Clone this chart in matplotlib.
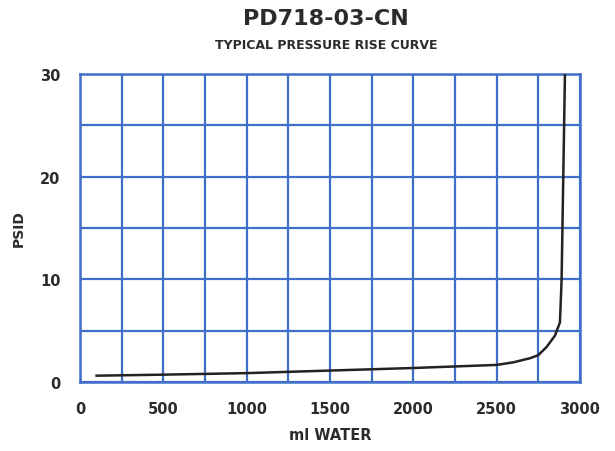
import matplotlib.pyplot as plt
import numpy as np

# curve
ml_water = [100, 500, 1000, 1500, 2000, 2500, 2600, 2700, 2750, 2800, 2850, 2880, 2890, 2900, 2910]
psid = [0.6, 0.7, 0.85, 1.1, 1.35, 1.65, 1.9, 2.3, 2.6, 3.4, 4.5, 5.8, 10.0, 20.0, 30.0]

x_ticks = [0, 500, 1000, 1500, 2000, 2500, 3000]
y_ticks = [0, 10, 20, 30]

GRID_BLUE = "#3f6fc8"
TEXT = "#2b2b2b"

fig = plt.figure(figsize=(6.15, 4.52), dpi=100)
ax = fig.add_axes([0.130, 0.153, 0.813, 0.681])

ax.set_xlim(0, 3000)
ax.set_ylim(0, 30)
ax.set_xticks(x_ticks)
ax.set_yticks(y_ticks)
ax.set_xticks(np.arange(0, 3001, 250), minor=True)
ax.set_yticks(np.arange(0, 31, 5), minor=True)
ax.grid(which="both", color=GRID_BLUE, linewidth=1.6)
ax.tick_params(which="both", length=0, pad=14, labelsize=10.5, labelcolor=TEXT)
for lab in ax.get_xticklabels() + ax.get_yticklabels():
    lab.set_fontweight("bold")
for side in ax.spines.values():
    side.set_color(GRID_BLUE)
    side.set_linewidth(1.8)

ax.plot(ml_water, psid, color="#222222", linewidth=1.8, zorder=3)

ax.set_xlabel("ml WATER", fontsize=10.5, fontweight="bold", color=TEXT, labelpad=8)
ax.set_ylabel("PSID", fontsize=10, fontweight="bold", color=TEXT, labelpad=10)

fig.text(0.53, 0.958, "PD718-03-CN", ha="center", va="center", fontsize=16,
         fontweight="bold", color=TEXT)
fig.text(0.53, 0.900, "TYPICAL PRESSURE RISE CURVE", ha="center", va="center",
         fontsize=9, fontweight="bold", color=TEXT)

fig.savefig("out.png", dpi=100)
